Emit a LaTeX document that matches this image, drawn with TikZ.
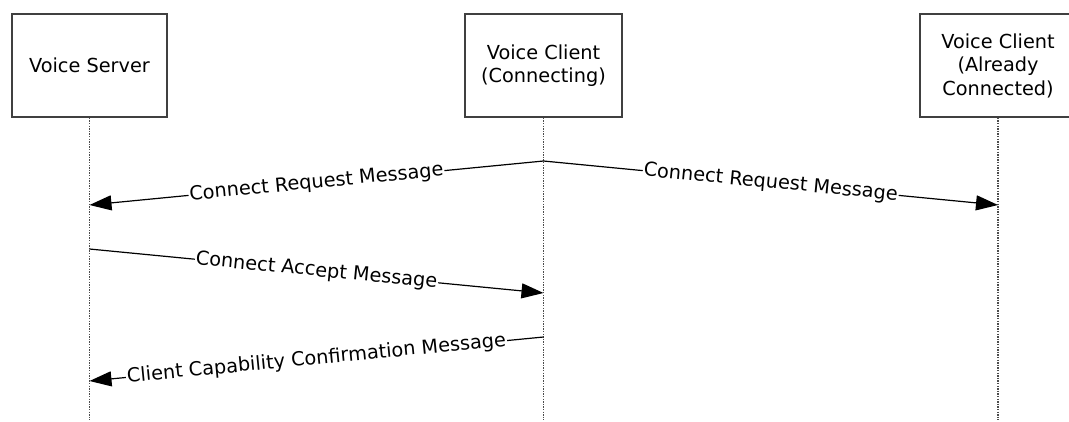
\documentclass[tikz,border=0pt]{standalone}
\usepackage{fontspec}
\setmainfont{DejaVu Sans}
\usetikzlibrary{positioning, arrows.meta}

\tikzset{
    actor/.style={draw=black!75, line width=1.4pt, fill=white, minimum height=103pt, align=center, font=\fontsize{19.3}{23.5}\selectfont},
    lifeline/.style={black!70, line width=1.3pt, dash pattern=on 1.4pt off 1.2pt},
    msg/.style={line width=1.2pt, -{Triangle[length=22pt, width=15pt]}},
    msglabel/.style={midway, sloped, fill=white, inner sep=1pt, font=\fontsize{19.3}{22}\selectfont}
}

\begin{document}
\begin{tikzpicture}[x=1pt, y=-1pt]
    \useasboundingbox (0,0) rectangle (1069,421);

    % actors
    \node[actor, minimum width=155pt] (server) at (89.5,65.5) {Voice Server};
    \node[actor, minimum width=157pt] (client) at (543.5,65.5) {Voice Client\\(Connecting)};
    \node[actor, minimum width=156pt] (peer) at (998,65.5) {Voice Client\\(Already\\Connected)};

    % lifelines
    \coordinate (server end) at (89.5,420);
    \coordinate (client end) at (543.5,420);
    \coordinate (peer end) at (998,420);
    \draw[lifeline] (server.south) -- (server end);
    \draw[lifeline] (client.south) -- (client end);
    \draw[lifeline] (peer.south) -- (peer end);

    % message points
    \coordinate (c1) at (543.5,161);
    \coordinate (s1) at (89.5,205);
    \coordinate (p1) at (998,205);
    \coordinate (s2) at (89.5,249);
    \coordinate (c2) at (543.5,293);
    \coordinate (c3) at (543.5,337);
    \coordinate (s3) at (89.5,381);

    % messages
    \draw[msg] (c1) -- (s1) node[msglabel] {Connect Request Message};
    \draw[msg] (c1) -- (p1) node[msglabel] {Connect Request Message};
    \draw[msg] (s2) -- (c2) node[msglabel] {Connect Accept Message};
    \draw[msg] (c3) -- (s3) node[msglabel] {Client Capability Confirmation Message};
\end{tikzpicture}
\end{document}
